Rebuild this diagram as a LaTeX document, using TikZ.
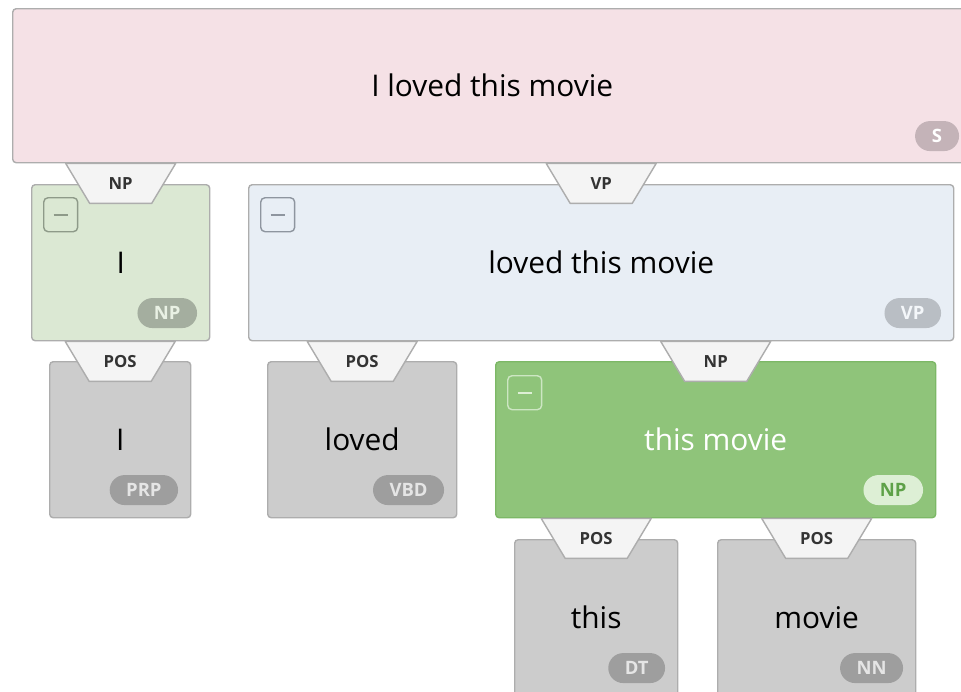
\documentclass[tikz,border=0pt]{standalone}
\usepackage{fontspec}
\setmainfont{Open Sans}
\usetikzlibrary{positioning, calc}

\definecolor{sfill}{HTML}{F5E1E6}
\definecolor{sbadge}{HTML}{C4B3B8}
\definecolor{npfill}{HTML}{DBE8D3}
\definecolor{npbadge}{HTML}{A4AE9F}
\definecolor{npline}{HTML}{8E9A89}
\definecolor{vpfill}{HTML}{E8EEF5}
\definecolor{vpbadge}{HTML}{B9BEC4}
\definecolor{vpline}{HTML}{8E959F}
\definecolor{posfill}{HTML}{CCCCCC}
\definecolor{posbadge}{HTML}{9E9E9E}
\definecolor{selfill}{HTML}{8FC47A}
\definecolor{selline}{HTML}{7CB866}
\definecolor{selbadge}{HTML}{DDEFD5}
\definecolor{seltext}{HTML}{5EA148}
\definecolor{boxline}{HTML}{ADADAD}
\definecolor{tabfill}{HTML}{F4F4F4}
\definecolor{tabtext}{HTML}{333333}

\tikzset{
  box/.style 2 args={draw=boxline, line width=0.8pt, rounded corners=2pt, anchor=north west,
    minimum width=#1*0.02cm, minimum height=#2*0.02cm, inner sep=0pt,
    font=\fontsize{17}{20}\selectfont, text=black},
  badge/.style={rounded corners=0.3cm, anchor=south east, minimum height=0.6cm, minimum width=0.88cm,
    inner xsep=0.33cm, inner ysep=0pt, font=\fontsize{10.5}{11}\selectfont\bfseries, text=white},
  btn/.style={draw=#1, line width=0.8pt, rounded corners=2.5pt, anchor=north west,
    minimum size=0.68cm, inner sep=0pt},
  tabshape/.style={fill=tabfill, draw=boxline, line width=0.8pt, line join=round},
  tabtxt/.style={inner sep=0pt, font=\fontsize{9.5}{10}\selectfont\bfseries, text=tabtext},
}
% trapezoid label hanging from a parent box over a child box
\newcommand{\edgetab}[3]{%
  \coordinate (#1) at #2;
  \filldraw[tabshape] ($(#1)+(-55,-20)$) -- ($(#1)+(55,-20)$) -- ($(#1)+(31,20)$) -- ($(#1)+(-31,20)$) -- cycle;
  \node[tabtxt] (#1txt) at (#1) {#3};}

\begin{document}
\begin{tikzpicture}[x=0.02cm, y=-0.02cm]
\useasboundingbox (0,0) rectangle (961,691);
% phrase boxes
\node[box={959}{154}, fill=sfill] (s) at (12,8) {I loved this movie};
\node[box={178}{156}, fill=npfill] (np) at (31,184) {I};
\node[box={705}{156}, fill=vpfill] (vp) at (248,184) {loved this movie};
\node[box={440}{156}, fill=selfill, draw=selline, text=white] (np2) at (495,361) {this movie};
% word boxes
\node[box={141}{156}, fill=posfill] (prp) at (49,361) {I};
\node[box={189}{156}, fill=posfill] (vbd) at (267,361) {loved};
\node[box={163}{156}, fill=posfill] (dt) at (514,539) {this};
\node[box={198}{156}, fill=posfill] (nn) at (717,539) {movie};
% badges
\node[badge, fill=sbadge] (sb) at ($(s.south east)+(-13,-12)$) {S};
\node[badge, fill=npbadge, text=npfill!60!white] (npb) at ($(np.south east)+(-13,-13)$) {NP};
\node[badge, fill=vpbadge, text=vpfill!50!white] (vpb) at ($(vp.south east)+(-13,-13)$) {VP};
\node[badge, fill=selbadge, text=seltext] (np2b) at ($(np2.south east)+(-13,-13)$) {NP};
\node[badge, fill=posbadge, text=posfill!50!white] (prpb) at ($(prp.south east)+(-13,-13)$) {PRP};
\node[badge, fill=posbadge, text=posfill!50!white] (vbdb) at ($(vbd.south east)+(-13,-13)$) {VBD};
\node[badge, fill=posbadge, text=posfill!50!white] (dtb) at ($(dt.south east)+(-13,-13)$) {DT};
\node[badge, fill=posbadge, text=posfill!50!white] (nnb) at ($(nn.south east)+(-13,-13)$) {NN};
% collapse buttons
\node[btn=npline] (npm) at ($(np.north west)+(12,13)$) {};
\node[btn=vpline] (vpm) at ($(vp.north west)+(12,13)$) {};
\node[btn=selbadge!80!selfill] (np2m) at ($(np2.north west)+(12,14)$) {};
\draw[npline, line width=1pt] ($(npm.center)+(-7,0)$) -- ($(npm.center)+(7,0)$);
\draw[vpline, line width=1pt] ($(vpm.center)+(-7,0)$) -- ($(vpm.center)+(7,0)$);
\draw[selbadge, line width=1pt] ($(np2m.center)+(-7,0)$) -- ($(np2m.center)+(7,0)$);
% edge tabs
\edgetab{t1}{($(s.south -| np.north)+(0,20)$)}{NP}
\edgetab{t2}{($(s.south -| vp.north)+(0,20)$)}{VP}
\edgetab{t3}{($(np.south -| prp.north)+(0,20)$)}{POS}
\edgetab{t4}{($(vp.south -| vbd.north)+(0,20)$)}{POS}
\edgetab{t5}{($(vp.south -| np2.north)+(0,20)$)}{NP}
\edgetab{t6}{($(np2.south -| dt.north)+(0,20)$)}{POS}
\edgetab{t7}{($(np2.south -| nn.north)+(0,20)$)}{POS}
\end{tikzpicture}
\end{document}
